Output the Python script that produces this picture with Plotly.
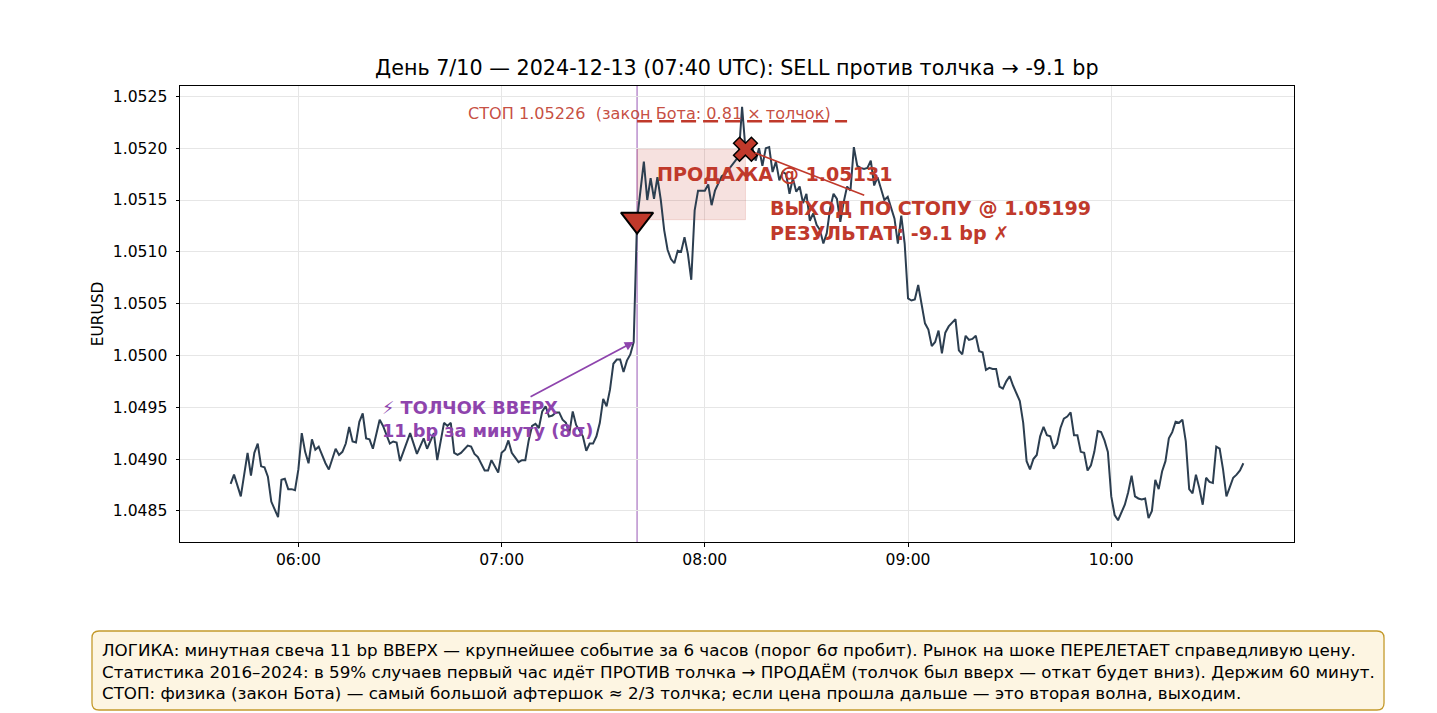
import plotly.graph_objects as go

DAY = "2024-12-13"

# минутные закрытия EURUSD, по часам (минуты часа -> цена)
minutes_05 = [40, 41, 43, 45, 46, 47, 48, 49, 50, 51, 52, 54, 55, 56, 57, 58, 59]
prices_05 = [1.04876, 1.04885, 1.04864, 1.04906, 1.04884, 1.04906, 1.04915, 1.04893, 1.04892, 1.04883,
             1.04859, 1.04844, 1.04880, 1.04881, 1.04871, 1.04871, 1.04870]

minutes_06 = [0, 1, 2, 3, 4, 5, 6, 8, 9, 11, 12, 13, 14, 15, 16, 17, 18, 19, 20, 21, 22, 24, 25, 27,
              28, 29, 30, 33, 35, 37, 38, 40, 41, 43, 44, 45, 46, 47, 48, 50, 51, 52, 53, 55, 56, 57, 59]
prices_06 = [1.04890, 1.04925, 1.04907, 1.04896, 1.04919, 1.04909, 1.04912, 1.04896, 1.04890, 1.04910,
             1.04904, 1.04907, 1.04915, 1.04931, 1.04917, 1.04916, 1.04936, 1.04944, 1.04920, 1.04919,
             1.04910, 1.04938, 1.04932, 1.04915, 1.04917, 1.04916, 1.04898, 1.04925, 1.04905, 1.04920,
             1.04910, 1.04925, 1.04899, 1.04935, 1.04932, 1.04935, 1.04906, 1.04904, 1.04906, 1.04913,
             1.04912, 1.04905, 1.04902, 1.04889, 1.04889, 1.04899, 1.04887]

minutes_07 = [0, 1, 2, 3, 5, 6, 7, 8, 9, 10, 11, 12, 13, 14, 15, 16, 17, 18, 19, 20, 21, 22, 24, 25,
              26, 27, 28, 29, 30, 31, 32, 33, 34, 35, 36, 37, 38, 39, 40, 42, 43, 44, 45, 46, 47, 48,
              49, 50, 51, 52, 53, 54, 55, 56, 57, 58, 59]
prices_07 = [1.04906, 1.04909, 1.04918, 1.04906, 1.04897, 1.04899, 1.04899, 1.04918, 1.04932, 1.04934,
             1.04930, 1.04946, 1.04951, 1.04941, 1.04942, 1.04945, 1.04945, 1.04938, 1.04935, 1.04925,
             1.04946, 1.04933, 1.04922, 1.04908, 1.04915, 1.04915, 1.04922, 1.04935, 1.04958, 1.04951,
             1.04967, 1.04992, 1.04996, 1.04996, 1.04984, 1.04995, 1.05001, 1.05013, 1.05131, 1.05187,
             1.05150, 1.05171, 1.05151, 1.05172, 1.05150, 1.05121, 1.05102, 1.05093, 1.05089, 1.05101,
             1.05100, 1.05114, 1.05098, 1.05073, 1.05140, 1.05159, 1.05159]

minutes_08 = list(range(60))
prices_08 = [1.05159, 1.05165, 1.05145, 1.05159, 1.05166, 1.05173, 1.05175, 1.05179, 1.05183, 1.05187,
             1.05192, 1.05240, 1.05199, 1.05195, 1.05201, 1.05188, 1.05200, 1.05183, 1.05200, 1.05201,
             1.05177, 1.05187, 1.05169, 1.05177, 1.05175, 1.05156, 1.05171, 1.05158, 1.05163, 1.05147,
             1.05156, 1.05130, 1.05137, 1.05126, 1.05121, 1.05108, 1.05118, 1.05142, 1.05156, 1.05151,
             1.05129, 1.05148, 1.05163, 1.05159, 1.05201, 1.05183, 1.05181, 1.05180, 1.05181, 1.05188,
             1.05164, 1.05172, 1.05161, 1.05150, 1.05153, 1.05143, 1.05132, 1.05108, 1.05135, 1.05108]

minutes_09 = list(range(60))
prices_09 = [1.05055, 1.05053, 1.05054, 1.05068, 1.05050, 1.05031, 1.05025, 1.05009, 1.05013, 1.05024,
             1.05002, 1.05022, 1.05028, 1.05032, 1.05035, 1.05005, 1.05001, 1.05019, 1.05015, 1.05016,
             1.05019, 1.05004, 1.05003, 1.04986, 1.04988, 1.04987, 1.04987, 1.04970, 1.04968, 1.04975,
             1.04980, 1.04971, 1.04964, 1.04956, 1.04935, 1.04898, 1.04890, 1.04900, 1.04904, 1.04922,
             1.04931, 1.04923, 1.04922, 1.04910, 1.04915, 1.04930, 1.04939, 1.04941, 1.04945, 1.04923,
             1.04923, 1.04907, 1.04906, 1.04889, 1.04894, 1.04907, 1.04927, 1.04926, 1.04918, 1.04907]

minutes_10 = list(range(40))
prices_10 = [1.04864, 1.04846, 1.04841, 1.04849, 1.04856, 1.04868, 1.04884, 1.04864, 1.04862, 1.04861,
             1.04862, 1.04843, 1.04850, 1.04880, 1.04871, 1.04888, 1.04898, 1.04920, 1.04926, 1.04936,
             1.04935, 1.04938, 1.04917, 1.04871, 1.04867, 1.04885, 1.04872, 1.04856, 1.04882, 1.04878,
             1.04877, 1.04912, 1.04910, 1.04890, 1.04864, 1.04873, 1.04882, 1.04885, 1.04889, 1.04896]

hour_blocks = [(5, minutes_05, prices_05), (6, minutes_06, prices_06), (7, minutes_07, prices_07),
               (8, minutes_08, prices_08), (9, minutes_09, prices_09), (10, minutes_10, prices_10)]

# сделка
shock_time, shock_price = "07:39", 1.05013
entry_time, entry_price = "07:40", 1.05131
exit_time, exit_price = "08:12", 1.05199
stop_end, stop_price = "08:42", 1.05226

tick_labels = ["06:00", "07:00", "08:00", "09:00", "10:00"]

times, prices = [], []
for hour, mins, vals in hour_blocks:
    assert len(mins) == len(vals)
    times += [f"{DAY} {hour:02d}:{m:02d}" for m in mins]
    prices += vals


def ts(hhmm):
    return f"{DAY} {hhmm}"


RED = '#c0392b'
PURPLE = '#8e44ad'
FONT = 'DejaVu Sans'

fig = go.Figure()

# цена
fig.add_trace(go.Scatter(
    x=times, y=prices, mode='lines',
    line=dict(color='#2c3e50', width=2),
    name='EURUSD'
))

# уровень стопа
fig.add_trace(go.Scatter(
    x=[ts(entry_time), ts(stop_end)], y=[stop_price, stop_price], mode='lines',
    line=dict(color=RED, width=2.5, dash='15px,7px'),
    hoverinfo='skip'
))

# вход / выход
fig.add_trace(go.Scatter(
    x=[ts(entry_time)], y=[entry_price], mode='markers',
    marker=dict(symbol='triangle-down', size=28, color=RED, line=dict(color='black', width=2))
))
fig.add_trace(go.Scatter(
    x=[ts(exit_time)], y=[exit_price], mode='markers',
    marker=dict(symbol='x', size=21, color=RED, line=dict(color='black', width=1.5))
))

# зона позиции и момент толчка
fig.add_shape(type='rect', xref='x', yref='y',
              x0=ts(entry_time), x1=ts(exit_time), y0=entry_price, y1=exit_price,
              fillcolor='rgba(192,57,43,0.15)', line=dict(color='rgba(192,57,43,0.15)', width=1),
              layer='between')
fig.add_shape(type='line', xref='x', yref='paper',
              x0=ts(entry_time), x1=ts(entry_time), y0=0, y1=1,
              line=dict(color='#bb8fce', width=1.5), layer='between')


def rounded_box(x0, y0, x1, y1, rx, ry):
    return (f"M{x0 + rx},{y0} L{x1 - rx},{y0} Q{x1},{y0} {x1},{y0 - ry} "
            f"L{x1},{y1 + ry} Q{x1},{y1} {x1 - rx},{y1} L{x0 + rx},{y1} "
            f"Q{x0},{y1} {x0},{y1 + ry} L{x0},{y0 - ry} Q{x0},{y0} {x0 + rx},{y0} Z")


fig.add_shape(type='path', xref='paper', yref='paper',
              path=rounded_box(-0.079, -0.1952, 1.0808, -0.3684, 0.0063, 0.0154),
              fillcolor='#fdf5e2', line=dict(color='#c49a2c', width=1.3))

# заголовок
fig.add_annotation(
    xref='paper', yref='paper', x=0.5, y=1, yanchor='bottom', yshift=4, showarrow=False,
    text="День 7/10 — 2024-12-13 (07:40 UTC): SELL против толчка → -9.1 bp",
    font=dict(family=FONT, size=20.7, color='black')
)

# подпись стопа
fig.add_annotation(
    x=ts("07:43:45"), y=stop_price, yanchor='bottom', yshift=-4, showarrow=False,
    text="СТОП 1.05226  (закон Бота: 0.81 × толчок)",
    font=dict(family=FONT, size=16.1, color='rgba(192,57,43,0.9)')
)

fig.add_annotation(
    x=ts("07:45:20"), y=1.05175, xanchor='left', showarrow=False,
    text="<b>ПРОДАЖА @ 1.05131</b>",
    font=dict(family=FONT, size=19.1, color=RED)
)

fig.add_annotation(
    x=ts(exit_time), y=exit_price, ax=ts("09:06:30"), ay=1.05130, axref='x', ayref='y',
    text="<b>ВЫХОД ПО СТОПУ @ 1.05199<br>РЕЗУЛЬТАТ: -9.1 bp ✗</b>", align='left',
    font=dict(family=FONT, size=19.1, color=RED),
    showarrow=True, arrowhead=0, arrowwidth=1.6, arrowcolor=RED, standoff=10
)

fig.add_annotation(
    x=ts(shock_time), y=shock_price, ax=ts("06:55:45"), ay=1.04938, axref='x', ayref='y',
    text="<b>⚡ ТОЛЧОК ВВЕРХ<br>11 bp за минуту (8σ)</b>", align='left',
    font=dict(family=FONT, size=17.7, color=PURPLE),
    showarrow=True, arrowhead=2, arrowsize=1, arrowwidth=1.8, arrowcolor=PURPLE, standoff=0
)

# пояснение снизу
fig.add_annotation(
    xref='paper', yref='paper', x=-0.0715, y=-0.2829, xanchor='left', yanchor='middle',
    showarrow=False, align='left',
    text=("ЛОГИКА: минутная свеча 11 bp ВВЕРХ — крупнейшее событие за 6 часов (порог 6σ пробит). "
          "Рынок на шоке ПЕРЕЛЕТАЕТ справедливую цену.<br>"
          "Статистика 2016–2024: в 59% случаев первый час идёт ПРОТИВ толчка → ПРОДАЁМ "
          "(толчок был вверх — откат будет вниз). Держим 60 минут.<br>"
          "СТОП: физика (закон Бота) — самый большой афтершок ≈ 2/3 толчка; "
          "если цена прошла дальше — это вторая волна, выходим."),
    font=dict(family=FONT, size=16.72, color='black')
)

axis_style = dict(
    showgrid=True, gridcolor='#e6e6e6', gridwidth=0.8,
    showline=True, linecolor='black', linewidth=1, mirror=True,
    ticks='outside', ticklen=3.5, tickwidth=0.8, tickcolor='black',
    tickfont=dict(family=FONT, size=15.6, color='black'),
    zeroline=False
)

fig.update_xaxes(
    type='date', range=[ts("05:25:03"), ts("10:53:57")],
    tickvals=[ts(t) for t in tick_labels], ticktext=tick_labels,
    **axis_style
)
fig.update_yaxes(
    range=[1.04820, 1.05260], tick0=1.0485, dtick=0.0005, tickformat='.4f',
    ticklabelstandoff=5,
    title=dict(text='EURUSD', font=dict(family=FONT, size=15.4, color='black'), standoff=5),
    **axis_style
)

fig.update_layout(
    width=1437, height=713, autosize=False,
    margin=dict(l=180, r=143, t=86, b=171),
    plot_bgcolor='white', paper_bgcolor='white',
    showlegend=False,
    font=dict(family=FONT)
)

fig.write_html("out.html", config={'displayModeBar': False},
               post_script="document.body.style.margin='0';")
